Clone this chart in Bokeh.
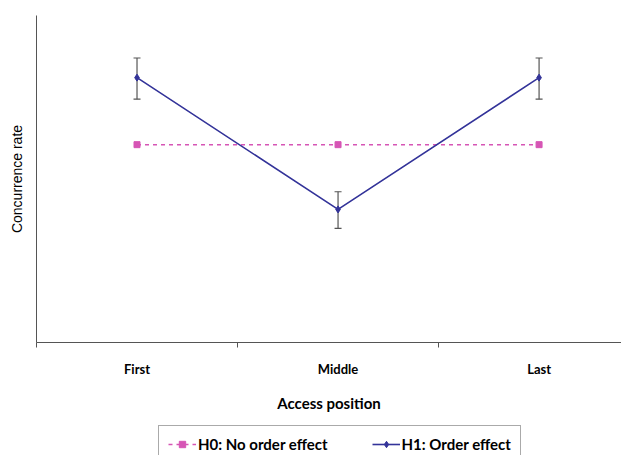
from bokeh.plotting import figure
from bokeh.layouts import column
from bokeh.models import (Range1d, FixedTicker, LinearAxis, Legend, LegendItem,
                          ColumnDataSource, Whisker, TeeHead)
from bokeh.embed import file_html
from bokeh.resources import INLINE

categories = ["First", "Middle", "Last"]
cat_pos = [0.5, 1.5, 2.5]
h0_values = [0.605, 0.605, 0.605]
h1_values = [0.81, 0.407, 0.81]
h1_upper = [0.87, 0.461, 0.87]
h1_lower = [0.744, 0.349, 0.744]

pink = "#d655b5"
navy = "#333399"
axis_gray = "#555555"

p = figure(width=621, height=420, output_backend="svg", toolbar_location=None,
           x_range=Range1d(0, 2.91), y_range=Range1d(0, 1),
           x_axis_type=None, y_axis_type=None,
           min_border_left=36, min_border_right=0, min_border_top=15, min_border_bottom=78)
p.outline_line_color = None
p.xgrid.visible = False
p.ygrid.visible = False
p.background_fill_color = "white"
p.border_fill_color = "white"

# x axis: category labels centred between boundary ticks
xaxis = LinearAxis(ticker=FixedTicker(ticks=cat_pos, minor_ticks=[0, 1, 2, 3]),
                   major_label_overrides={cp: c for cp, c in zip(cat_pos, categories)},
                   axis_label="Access position")
xaxis.major_tick_line_color = None
xaxis.minor_tick_in = 0
xaxis.minor_tick_out = 5
xaxis.minor_tick_line_color = axis_gray
xaxis.axis_line_color = axis_gray
xaxis.major_label_standoff = 12
xaxis.major_label_text_font = "Lato"
xaxis.major_label_text_font_style = "bold"
xaxis.major_label_text_font_size = "13px"
xaxis.major_label_text_color = "black"
xaxis.axis_label_text_font = "Lato"
xaxis.axis_label_text_font_style = "bold"
xaxis.axis_label_text_font_size = "15px"
xaxis.axis_label_text_color = "black"
xaxis.axis_label_standoff = 14
p.add_layout(xaxis, "below")

yaxis = LinearAxis(ticker=FixedTicker(ticks=[]), axis_label="Concurrence rate")
yaxis.axis_line_color = axis_gray
yaxis.major_tick_line_color = None
yaxis.minor_tick_line_color = None
yaxis.major_label_text_font_size = "0px"
yaxis.axis_label_text_font = "Liberation Sans"
yaxis.axis_label_text_font_style = "normal"
yaxis.axis_label_text_font_size = "14px"
yaxis.axis_label_text_color = "black"
yaxis.axis_label_standoff = 12
p.add_layout(yaxis, "left")

src_h0 = ColumnDataSource(dict(x=cat_pos, y=h0_values))
src_h1 = ColumnDataSource(dict(x=cat_pos, y=h1_values, upper=h1_upper, lower=h1_lower))

h0_line = dict(line_color=pink, line_width=1.5, line_dash="4 4")
h0_mark = dict(marker="square", size=6, fill_color=pink, line_color=pink)
h1_line = dict(line_color=navy, line_width=1.6)
h1_mark = dict(marker="diamond", size=7, fill_color=navy, line_color=navy)

p.line("x", "y", source=src_h0, **h0_line)
p.scatter("x", "y", source=src_h0, **h0_mark)

p.add_layout(Whisker(base="x", upper="upper", lower="lower", source=src_h1,
                     line_color=axis_gray, line_width=1.2,
                     upper_head=TeeHead(size=7, line_color=axis_gray, line_width=1.2),
                     lower_head=TeeHead(size=7, line_color=axis_gray, line_width=1.2)))

p.line("x", "y", source=src_h1, **h1_line)
p.scatter("x", "y", source=src_h1, **h1_mark)

# legend strip: a separate figure whose ranges keep the series out of view,
# used only to hold the legend below the chart
lg = figure(width=621, height=35, output_backend="svg", toolbar_location=None,
            x_range=Range1d(0, 1), y_range=Range1d(10, 11),
            x_axis_type=None, y_axis_type=None,
            min_border_left=0, min_border_right=0, min_border_top=0, min_border_bottom=0)
lg.outline_line_color = None
lg.xgrid.visible = False
lg.ygrid.visible = False
lg.border_fill_color = "white"
lg.background_fill_color = "white"
g0l = lg.line("x", "y", source=src_h0, **h0_line)
g0m = lg.scatter("x", "y", source=src_h0, **h0_mark)
g1l = lg.line("x", "y", source=src_h1, **h1_line)
g1m = lg.scatter("x", "y", source=src_h1, marker="diamond", size=6, fill_color=navy, line_color=navy)

legend = Legend(items=[LegendItem(label="H0: No order effect", renderers=[g0l, g0m]),
                       LegendItem(label="H1: Order effect", renderers=[g1l, g1m])],
                orientation="horizontal", location=(122, -8),
                border_line_color=axis_gray, border_line_width=1,
                label_text_font="Lato", label_text_font_style="bold",
                label_text_font_size="15px", label_text_color="black",
                glyph_width=28, glyph_height=16, spacing=44, padding=9, margin=0,
                label_standoff=2, background_fill_color="white")
lg.add_layout(legend, "center")

layout = column(p, lg, spacing=0)
open("out.html", "w").write(file_html(layout, INLINE))
